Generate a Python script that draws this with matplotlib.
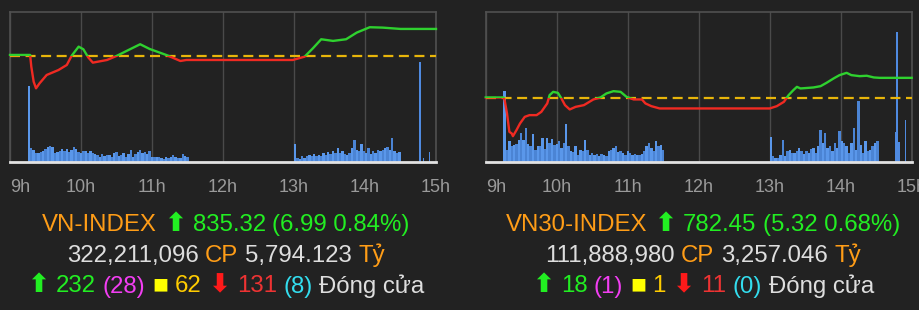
import matplotlib
matplotlib.use("Agg")
import matplotlib.pyplot as plt
from matplotlib.patches import Rectangle
import numpy as np

# ---- data (minutes after 9:00, index points) ----
vn_name = "VN-INDEX"
vn_close, vn_chg, vn_pct = 835.32, 6.99, 0.84
vn_ref = vn_close - vn_chg
vn_t = [0, 17, 18, 20, 22, 25, 31, 41, 48, 52, 58, 62, 66, 70, 82, 90, 99, 110,
        118, 132, 144, 149, 239, 249, 256, 263, 273, 284, 293, 304, 315, 330, 360]
vn_p = [828.59, 828.59, 825.56, 821.67, 819.96, 821.26, 823.41, 824.70, 826.0,
        828.33, 830.74, 830.06, 828.0, 826.6, 827.29, 828.33, 829.7, 831.36,
        830.14, 828.59, 827.03, 827.29, 827.29, 828.15, 830.32, 832.65, 832.22,
        832.65, 834.37, 835.76, 835.66, 835.32, 835.32]
vn_ylim = (800.9, 839.7)
# volume bars (2 minute buckets), morning from 9:15, afternoon from 13:00
vn_vol_am = [76, 14, 12, 9, 9, 10, 11, 13, 15, 16, 15, 9, 10, 11, 13, 11, 13,
             10, 12, 15, 13, 10, 9, 11, 11, 9, 11, 9, 8, 7, 5, 8, 6, 7, 7, 5,
             9, 10, 6, 7, 9, 5, 8, 12, 5, 8, 10, 12, 9, 10, 8, 11, 5, 5, 5, 5,
             4, 3, 5, 4, 5, 7, 5, 4, 4, 8, 6, 5]
vn_vol_pm = [18, 4, 3, 6, 4, 6, 7, 6, 8, 6, 7, 6, 9, 7, 10, 8, 11, 9, 14, 9,
             11, 8, 7, 9, 14, 22, 12, 11, 18, 11, 9, 14, 8, 11, 9, 12, 11, 12,
             14, 15, 12, 24, 11, 9, 10]
vn_late_t = [346, 349, 354]
vn_late_v = [100, 4, 10]
vn_shares, vn_value = "322,211,096", "5,794.123"
vn_up, vn_ceil, vn_flat, vn_down, vn_floor = 232, 28, 62, 131, 8

v30_name = "VN30-INDEX"
v30_close, v30_chg, v30_pct = 782.45, 5.32, 0.68
v30_ref = v30_close - v30_chg
v30_t = [0, 15, 16, 18, 20, 22, 23, 26, 29, 33, 37, 43, 47, 52, 54, 57, 61, 64,
         67, 71, 76, 83, 91, 97, 102, 108, 114, 119, 125, 132, 135, 140, 147,
         151, 240, 246, 252, 256, 260, 263, 266, 277, 283, 288, 294, 299, 305,
         309, 316, 322, 328, 333, 360]
v30_p = [777.31, 777.31, 776.61, 773.12, 768.3, 767.88, 767.17, 768.75, 770.5,
         772.23, 772.68, 772.68, 773.54, 775.74, 777.92, 778.78, 778.52, 777.05,
         775.3, 774.17, 774.85, 775.3, 776.79, 777.31, 778.36, 778.96, 778.78,
         777.47, 776.79, 776.79, 775.74, 775.03, 774.43, 774.43, 774.43, 775.03,
         776.16, 777.92, 779.23, 780.09, 779.67, 779.93, 780.27, 781.14, 782.29,
         783.16, 783.76, 783.16, 782.89, 783.0, 782.55, 782.45, 782.45]
v30_ylim = (760.4, 799.7)
v30_vol_am = [71, 12, 21, 16, 17, 18, 22, 29, 22, 34, 18, 16, 28, 12, 16, 16,
              24, 13, 24, 19, 23, 17, 18, 21, 14, 19, 38, 16, 11, 10, 16, 7, 12,
              11, 22, 12, 7, 9, 7, 8, 6, 8, 7, 6, 11, 12, 14, 16, 10, 11, 9, 7,
              11, 9, 7, 8, 7, 7, 8, 11, 16, 19, 14, 11, 21, 16, 17, 12]
v30_vol_pm = [25, 6, 4, 4, 7, 22, 6, 11, 12, 9, 9, 11, 14, 11, 8, 11, 9, 13, 14,
              9, 16, 32, 19, 29, 14, 16, 11, 19, 14, 31, 21, 19, 16, 9, 19, 34,
              12, 61, 17, 9, 21, 11, 12, 16, 19, 21]
v30_late_t = [345.5, 347, 348.5, 354]
v30_late_v = [30, 130, 20, 42]
v30_shares, v30_value = "111,888,980", "3,257.046"
v30_up, v30_ceil, v30_flat, v30_down, v30_floor = 18, 1, 1, 11, 0

hours = [9, 10, 11, 12, 13, 14, 15]
hour_labels = ["9h", "10h", "11h", "12h", "13h", "14h", "15h"]

BG = "#222222"
GREEN = "#2fd12f"
RED = "#f02a22"
W, H = 920, 310
FONT = ["Liberation Sans", "DejaVu Sans"]

fig = plt.figure(figsize=(W / 100, H / 100), dpi=100, facecolor=BG)


def chart(x0, t, p, ref, ylim, vol_am, vol_pm, late_t, late_v):
    ax = fig.add_axes([x0 / W, 1 - 162 / H, 426 / W, 150 / H])
    ax.set_facecolor(BG)
    ax.set_xlim(9, 15)
    ax.set_ylim(0, 150)
    # volume bars
    for start, vals in ((15, vol_am), (240, vol_pm)):
        mins = start + 2 * np.arange(len(vals))
        cols = ["#5a97ea" if i % 2 == 0 else "#4b84d4" for i in range(len(vals))]
        ax.bar(9 + mins / 60, vals, width=2 / 60, align="edge", color=cols,
               linewidth=0, zorder=2)
    ax.bar(9 + np.array(late_t) / 60, late_v, width=1.2 / 60, align="edge",
           color="#4f8ae0", linewidth=0, zorder=2)
    ax.set_xticks(hours)
    ax.set_xticklabels(hour_labels, color="#9a9a9a", fontsize=13, family=FONT)
    ax.get_xticklabels()[0].set_ha("left")
    ax.tick_params(axis="x", length=0, pad=12)
    ax.set_yticks([])
    ax.grid(axis="x", color="#4a4a4a", lw=1, zorder=1)
    for s in ("top", "left", "right"):
        ax.spines[s].set_color("#505050")
        ax.spines[s].set_linewidth(1.2)
    ax.spines["bottom"].set_color("#e2e2e2")
    ax.spines["bottom"].set_linewidth(2)
    ax.spines["bottom"].set_zorder(5)

    ax2 = ax.twinx()
    ax2.set_ylim(*ylim)
    ax2.set_yticks([])
    for s in ax2.spines.values():
        s.set_visible(False)
    ax2.axhline(ref, color="#e8b50a", lw=1.6, ls=(0, (4.5, 2.5)), zorder=3)
    th = 9 + np.array(t) / 60
    lg, = ax2.plot(th, p, color=GREEN, lw=1.7, zorder=4)
    lr, = ax2.plot(th, p, color=RED, lw=1.7, zorder=4)
    lg.set_clip_path(Rectangle((8, ref), 8, 200, transform=ax2.transData))
    lr.set_clip_path(Rectangle((8, ref - 200), 8, 200, transform=ax2.transData))
    return ax


chart(10, vn_t, vn_p, vn_ref, vn_ylim, vn_vol_am, vn_vol_pm, vn_late_t, vn_late_v)
chart(485.7, v30_t, v30_p, v30_ref, v30_ylim, v30_vol_am, v30_vol_pm,
      v30_late_t, v30_late_v)

renderer = fig.canvas.get_renderer()


def rich_line(xc, baseline, parts, size):
    probe = fig.text(0, 0, "a a", fontsize=size, family=FONT)
    probe2 = fig.text(0, 0, "aa", fontsize=size, family=FONT)
    space = probe.get_window_extent(renderer).width - probe2.get_window_extent(renderer).width
    probe.remove()
    probe2.remove()
    items = []
    for s, c, fs, wt in parts:
        tx = fig.text(0, 1 - baseline / H, s, color=c, fontsize=size * fs,
                      family=FONT, weight=wt, va="baseline", ha="left")
        items.append(tx)
    widths = [tx.get_window_extent(renderer).width for tx in items]
    total = sum(widths) + space * (len(items) - 1)
    x = xc - total / 2
    for tx, w in zip(items, widths):
        tx.set_x(x / W)
        x += w + space


ORANGE = "#ff9d17"
WHITE = "#dedede"
LGREEN = "#22ee22"
FS = 17.3
for xc, name, close, chg, pct, shares, value, up, ceil, flat, down, floor in (
        (226, vn_name, vn_close, vn_chg, vn_pct, vn_shares, vn_value,
         vn_up, vn_ceil, vn_flat, vn_down, vn_floor),
        (703, v30_name, v30_close, v30_chg, v30_pct, v30_shares, v30_value,
         v30_up, v30_ceil, v30_flat, v30_down, v30_floor)):
    rich_line(xc, 231, [(name, ORANGE, 1, "normal"),
                        ("\u2b06", LGREEN, 1.1, "bold"),
                        (f"{close:.2f}", LGREEN, 1, "normal"),
                        (f"({chg:.2f} {pct:.2f}%)", LGREEN, 1, "normal")], FS)
    rich_line(xc, 262, [(shares, WHITE, 1, "normal"), ("CP", ORANGE, 1, "normal"),
                        (value, WHITE, 1, "normal"), ("Tỷ", ORANGE, 1, "normal")], FS)
    rich_line(xc, 292.5, [("\u2b06", LGREEN, 1.1, "bold"),
                          (str(up), LGREEN, 1, "normal"),
                          (f"({ceil})", "#f23ef2", 1, "normal"),
                          ("\u25a0", "#ffff00", 1.1, "normal"),
                          (str(flat), "#ffcc00", 1, "normal"),
                          ("\u2b07", "#ff1a1a", 1.1, "bold"),
                          (str(down), "#ee3333", 1, "normal"),
                          (f"({floor})", "#33ddee", 1, "normal"),
                          ("Đóng cửa", WHITE, 1, "normal")], FS)

fig.savefig("out.png", dpi=100, facecolor=BG)
